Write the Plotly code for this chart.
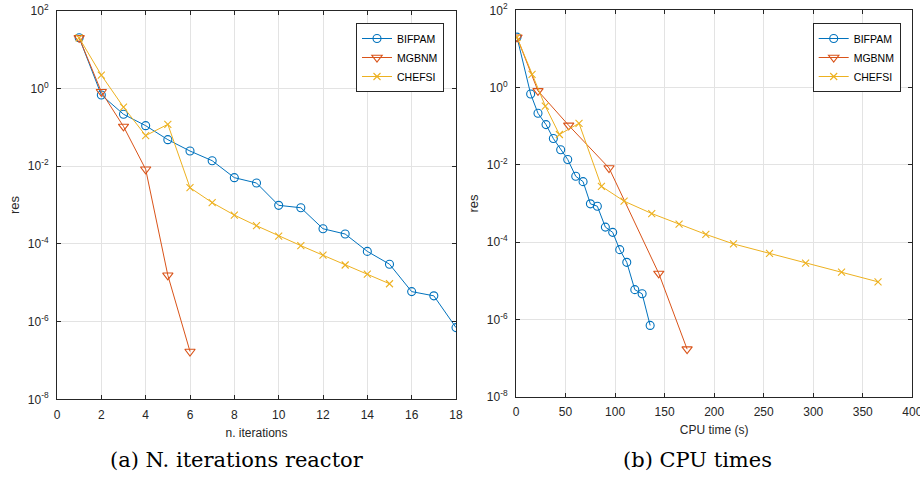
import plotly.graph_objects as go

# ---- data ----
iters_bif = list(range(1, 19))
res_bif = [20.2, 0.68, 0.216, 0.11, 0.048, 0.0245, 0.0138, 0.00505, 0.00368,
           0.00098, 0.00085, 0.000245, 0.000179, 6.4e-5, 3.0e-5, 5.9e-6, 4.6e-6, 7.0e-7]
iters_mgb = list(range(1, 7))
res_mgb = [20.0, 0.82, 0.105, 0.0083, 1.55e-5, 1.7e-7]
iters_che = list(range(1, 16))
res_che = [20.0, 2.2, 0.33, 0.061, 0.119, 0.00279, 0.00115, 0.00055, 0.000293,
           0.000159, 9.0e-5, 5.1e-5, 2.86e-5, 1.67e-5, 9.4e-6]

cpu_bif = [1.0, 14.8, 22.2, 30.3, 37.7, 45.1, 52.2, 60.3, 67.7, 75.1, 82.1, 90.2,
           97.6, 104.7, 111.8, 119.9, 127.3, 135.4]
cpu_mgb = [1.0, 22.2, 53.2, 93.9, 144.1, 172.7]
cpu_che = [1.0, 16.2, 29.6, 43.8, 63.6, 86.2, 109.1, 137.0, 164.6, 191.6, 219.5,
           255.9, 292.3, 328.6, 365.4]

names = ["BIFPAM", "MGBNM", "CHEFSI"]
colors = ["#0072BD", "#D95319", "#EDB120"]
symbols = ["circle-open", "triangle-down-open", "x-thin-open"]
msizes = [8, 9, 7]

ytickvals = [1e-8, 1e-6, 1e-4, 1e-2, 1e0, 1e2]
yticktext = ["10<sup>-8</sup>", "10<sup>-6</sup>", "10<sup>-4</sup>",
             "10<sup>-2</sup>", "10<sup>0</sup>", "10<sup>2</sup>"]

W, H = 920, 478
fig = go.Figure()

left = [(iters_bif, res_bif), (iters_mgb, res_mgb), (iters_che, res_che)]
right = [(cpu_bif, res_bif), (cpu_mgb, res_mgb), (cpu_che, res_che)]

for i, (x, y) in enumerate(left):
    fig.add_trace(go.Scatter(x=x, y=y, name=names[i], mode="lines+markers",
                             line=dict(color=colors[i], width=1),
                             marker=dict(symbol=symbols[i], size=msizes[i], color=colors[i],
                                         line=dict(width=1.1, color=colors[i])),
                             xaxis="x", yaxis="y", legend="legend"))
for i, (x, y) in enumerate(right):
    fig.add_trace(go.Scatter(x=x, y=y, name=names[i], mode="lines+markers",
                             line=dict(color=colors[i], width=1),
                             marker=dict(symbol=symbols[i], size=msizes[i], color=colors[i],
                                         line=dict(width=1.1, color=colors[i])),
                             xaxis="x2", yaxis="y2", legend="legend2"))

axcol = "#262626"
gridcol = "#e3e3e3"
sans = "Liberation Sans, Arial, sans-serif"
tickfont = dict(family=sans, size=12, color=axcol)

def xax(domain, rng, dtick, title, anchor):
    return dict(domain=domain, range=rng, dtick=dtick, tick0=0, anchor=anchor,
                automargin=False, ticklabeloverflow="allow",
                showgrid=True, gridcolor=gridcol, gridwidth=1,
                showline=True, linecolor=axcol, linewidth=1, mirror="ticks",
                ticks="inside", ticklen=4, tickcolor=axcol, tickfont=tickfont,
                ticklabelstandoff=4, zeroline=False,
                title=dict(text=title, font=dict(family=sans, size=12, color=axcol),
                           standoff=7))

def yax(domain, anchor):
    return dict(domain=domain, type="log", range=[-8, 2], anchor=anchor,
                automargin=False, ticklabeloverflow="allow",
                tickvals=ytickvals, ticktext=yticktext,
                showgrid=True, gridcolor=gridcol, gridwidth=1,
                showline=True, linecolor=axcol, linewidth=1, mirror="ticks",
                ticks="inside", ticklen=4, tickcolor=axcol, tickfont=tickfont,
                ticklabelstandoff=5, zeroline=False,
                title=dict(text="res", font=dict(family=sans, size=13, color=axcol),
                           standoff=5))

legfont = dict(family=sans, size=10.5, color="#000")
fig.update_layout(
    width=W, height=H,
    margin=dict(l=0, r=0, t=0, b=0, autoexpand=False),
    paper_bgcolor="white", plot_bgcolor="white",
    xaxis=xax([57 / W, 456 / W], [0, 18], 2, "n. iterations", "y"),
    yaxis=yax([1 - 399.3 / H, 1 - 10.7 / H], "x"),
    xaxis2=xax([516 / W, 912.3 / W], [0, 400], 50, "CPU time (s)", "y2"),
    yaxis2=yax([1 - 396.7 / H, 1 - 10.3 / H], "x2"),
    legend=dict(x=444 / W, y=1 - 23 / H, xanchor="right", yanchor="top",
                bgcolor="white", bordercolor=axcol, borderwidth=1,
                font=legfont, itemwidth=30, tracegroupgap=0),
    legend2=dict(x=900.7 / W, y=1 - 23 / H, xanchor="right", yanchor="top",
                 bgcolor="white", bordercolor=axcol, borderwidth=1,
                 font=legfont, itemwidth=30, tracegroupgap=0),
    showlegend=True,
)

capfont = dict(family="DejaVu Serif, serif", size=21, color="#000")
fig.add_annotation(text="(a) N. iterations reactor", x=237 / W, y=1 - 460 / H,
                   xref="paper", yref="paper", showarrow=False, font=capfont,
                   xanchor="center", yanchor="middle")
fig.add_annotation(text="(b) CPU times", x=697 / W, y=1 - 460 / H,
                   xref="paper", yref="paper", showarrow=False, font=capfont,
                   xanchor="center", yanchor="middle")

fig.write_html("out.html", config={"displayModeBar": False},
               post_script="document.body.style.margin='0';document.body.style.overflow='hidden';")
